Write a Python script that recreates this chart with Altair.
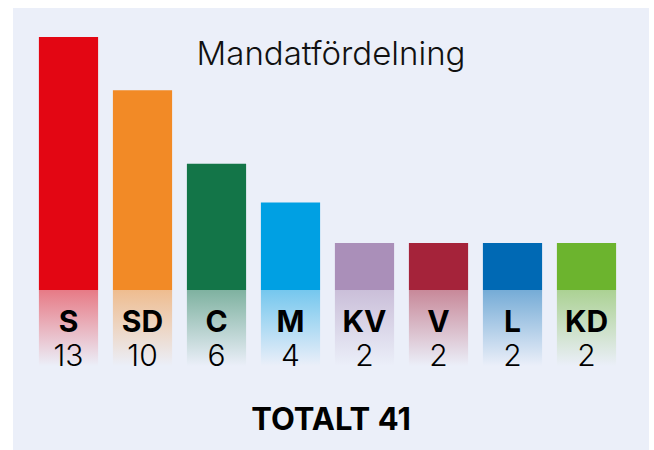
import altair as alt
import pandas as pd

parties = ["S", "SD", "C", "M", "KV", "V", "L", "KD"]
seats = [13, 10, 6, 4, 2, 2, 2, 2]
colors = ["#e30613", "#f28a26", "#137548", "#00a0e3", "#aa8fb9", "#a5233a", "#0069b4", "#6cb42e"]
title_text = "Mandatfördelning"
total_label = "TOTALT"

FONT = "Inter"
BG = "#ebeff9"

df = pd.DataFrame({"party": parties, "seats": seats, "color": colors})
one = pd.DataFrame({"t": [title_text], "total": [f"{total_label} {sum(seats)}"]})

xenc = alt.X("party:N", sort=parties, axis=None,
             scale=alt.Scale(domain=parties, range=[31.5, 623.5],
                             paddingInner=0.2, paddingOuter=0.1))

panel = alt.Chart(one).mark_rect(color=BG).encode(
    x=alt.value(13), x2=alt.value(649), y=alt.value(8), y2=alt.value(470)
)

bars = alt.Chart(df).mark_bar().encode(
    x=xenc,
    y=alt.Y("seats:Q", axis=None,
            scale=alt.Scale(type="pow", exponent=0.9, domain=[0, max(seats)],
                            range=[290, 37])),
    color=alt.Color("party:N", legend=None,
                    scale=alt.Scale(domain=parties, range=colors)),
)


def rgba(h, a):
    h = h.lstrip("#")
    r, g, b = int(h[0:2], 16), int(h[2:4], 16), int(h[4:6], 16)
    return f"rgba({r},{g},{b},{a})"


fades = []
for p, c in zip(parties, colors):
    grad = alt.Gradient(
        gradient="linear",
        stops=[alt.GradientStop(color=rgba(c, 0.5), offset=0),
               alt.GradientStop(color=rgba(c, 0.0), offset=1)],
        x1=0, x2=0, y1=0, y2=1,
    )
    fades.append(
        alt.Chart(df).transform_filter(alt.datum.party == p)
        .mark_bar(color=grad)
        .encode(x=xenc, y=alt.value(290), y2=alt.value(366))
    )

party_txt = alt.Chart(df).mark_text(
    font=FONT, fontWeight="bold", fontSize=30, baseline="alphabetic",
    align="center", color="#000000"
).encode(x=xenc, y=alt.value(332), text="party:N")

num_txt = alt.Chart(df).mark_text(
    font=FONT, fontWeight=300, fontSize=30, baseline="alphabetic",
    align="center", color="#000000"
).encode(x=xenc, y=alt.value(366), text="seats:Q")

title = alt.Chart(one).mark_text(
    font=FONT, fontWeight=300, fontSize=33, baseline="alphabetic",
    align="center", color="#111111"
).encode(x=alt.value(331), y=alt.value(65), text="t:N")

total = alt.Chart(one).mark_text(
    font=FONT, fontWeight="bold", fontSize=31, baseline="alphabetic",
    align="center", color="#000000"
).encode(x=alt.value(331), y=alt.value(430), text="total:N")

chart = alt.layer(panel, bars, *fades, party_txt, num_txt, title, total).properties(
    width=654, height=450, padding=0, autosize="none", background="white"
).configure_view(stroke=None)

chart.save("out.html", embed_options={"renderer": "svg", "actions": False})
